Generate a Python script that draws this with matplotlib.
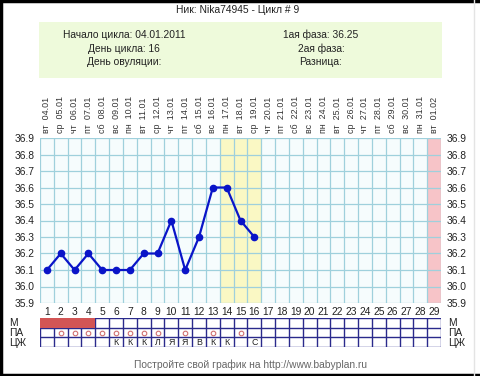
import matplotlib
matplotlib.use("Agg")
import matplotlib.pyplot as plt
from matplotlib.lines import Line2D
from matplotlib.patches import Rectangle

plt.rcParams['font.family'] = ['Liberation Sans', 'DejaVu Sans']

# данные графика
weekdays = ['вт', 'ср', 'чт', 'пт', 'сб', 'вс', 'пн',
            'вт', 'ср', 'чт', 'пт', 'сб', 'вс', 'пн',
            'вт', 'ср', 'чт', 'пт', 'сб', 'вс', 'пн',
            'вт', 'ср', 'чт', 'пт', 'сб', 'вс', 'пн', 'вт']
dates = ['04.01', '05.01', '06.01', '07.01', '08.01', '09.01', '10.01',
         '11.01', '12.01', '13.01', '14.01', '15.01', '16.01', '17.01',
         '18.01', '19.01', '20.01', '21.01', '22.01', '23.01', '24.01',
         '25.01', '26.01', '27.01', '28.01', '29.01', '30.01', '31.01', '01.02']
days = [1, 2, 3, 4, 5, 6, 7, 8, 9, 10, 11, 12, 13, 14, 15, 16]
temps = [36.1, 36.2, 36.1, 36.2, 36.1, 36.1, 36.1, 36.2,
         36.2, 36.4, 36.1, 36.3, 36.6, 36.6, 36.4, 36.3]
yticks = [35.9, 36.0, 36.1, 36.2, 36.3, 36.4, 36.5, 36.6, 36.7, 36.8, 36.9]
m_days = [1, 2, 3, 4]
pa_days = [2, 3, 4, 5, 6, 7, 8, 9, 11, 13, 15]
cm_days = [6, 7, 8, 9, 10, 11, 12, 13, 14, 16]
cm_marks = ['К', 'К', 'К', 'Л', 'Я', 'Я', 'В', 'К', 'К', 'С']
yellow_days = [14, 15, 16]
pink_days = [29]
n_days = 29

W, H = 480, 376
fig = plt.figure(figsize=(W / 100, H / 100), dpi=100)


def box(x0, y0, x1, y1):
    # пиксели (от верхнего левого угла) -> доли фигуры
    return [x0 / W, 1 - y1 / H, (x1 - x0) / W, (y1 - y0) / H]


# рамка картинки
for xs, ys, c, lw in [([0.002, 0.002], [0, 1], 'black', 2.5),
                      ([0, 1], [0.997, 0.997], 'black', 2.5),
                      ([0, 1], [0.002, 0.002], 'black', 2.5),
                      ([0.988, 0.988], [0, 1], '#e4e4e4', 1.0)]:
    fig.add_artist(Line2D(xs, ys, color=c, lw=lw, transform=fig.transFigure))

# заголовок и зелёный блок
fig.text(238 / W, 1 - 10 / H, 'Ник: Nika74945 - Цикл # 9', ha='center', va='center',
         fontsize=7.4, color='#222222')
fig.add_artist(Rectangle((39 / W, 1 - 78 / H), 403 / W, 56 / H, transform=fig.transFigure,
                         facecolor='#eefadb', edgecolor='none'))
left_info = ['Начало цикла: 04.01.2011', 'День цикла: 16', 'День овуляции:']
right_info = ['1ая фаза: 36.25', '2ая фаза:', 'Разница:']
for i, (a, b) in enumerate(zip(left_info, right_info)):
    yy = 1 - (35 + i * 13.5) / H
    fig.text(124 / W, yy, a, ha='center', va='center', fontsize=7.4, color='#222222')
    fig.text(321 / W, yy, b, ha='center', va='center', fontsize=7.4, color='#222222')

# основной график
ax = fig.add_axes(box(40, 138, 441, 303))
ax.set_xlim(0.5, n_days + 0.5)
ax.set_ylim(35.9, 36.9)
ax.set_facecolor('#f6fcfd')
for d in yellow_days:
    ax.axvspan(d - 0.5, d + 0.5, color='#faf8c4', lw=0, zorder=0.5)
for d in pink_days:
    ax.axvspan(d - 0.5, d + 0.5, color='#f7c4c8', lw=0, zorder=0.5)
grid_c = '#9fd0dc'
for k in range(n_days + 1):
    ax.axvline(k + 0.5, color=grid_c, lw=0.9, zorder=1)
for t in yticks:
    ax.axhline(t, color=grid_c, lw=0.9, zorder=1)
ax.plot(days, temps, color='#0a14c8', lw=1.6, marker='o', markersize=4.5,
        markerfacecolor='#0a14c8', markeredgecolor='#0a14c8', zorder=3)
for s in ax.spines.values():
    s.set_visible(False)
ax.set_xticks(range(1, n_days + 1))
ax.set_xticklabels([str(d) for d in range(1, n_days + 1)])
ax.set_yticks(yticks)
ax.set_yticklabels(['%.1f' % t for t in yticks])
ax.tick_params(axis='both', length=0, labelsize=7.4, colors='#222222')
ax.tick_params(axis='x', pad=3)
ax.tick_params(axis='y', labelright=True, pad=4)
for d in range(1, n_days + 1):
    ax.text(d, 1.03, weekdays[d - 1] + '  ' + dates[d - 1], transform=ax.get_xaxis_transform(),
            rotation=90, ha='center', va='bottom', fontsize=6.4, color='#333333')

# таблица внизу
tb = fig.add_axes(box(40, 318, 441, 347))
tb.set_xlim(0.5, n_days + 0.5)
tb.set_ylim(3, 0)
tb.axis('off')
line_c = '#2a2a8c'
tb.vlines([k + 0.5 for k in range(n_days + 1)], 0, 3, color=line_c, lw=1.0, zorder=2)
tb.hlines([0, 1, 2, 3], 0.5, n_days + 0.5, color=line_c, lw=1.0, zorder=2)
tb.bar(m_days, 1, width=1, bottom=0, align='center', color='#d25555', lw=0, zorder=3)
tb.plot(pa_days, [1.5] * len(pa_days), 'o', markersize=3.3, markerfacecolor='none',
        markeredgecolor='#d07070', markeredgewidth=0.8, zorder=3)
for d, m in zip(cm_days, cm_marks):
    tb.text(d, 2.5, m, ha='center', va='center', fontsize=6.4, color='#222222')
for i, lab in enumerate(['М', 'ПА', 'ЦЖ']):
    fig.text(9 / W, 1 - (323 + i * 10) / H, lab, ha='left', va='center', fontsize=7.4, color='#222222')
    fig.text(448 / W, 1 - (323 + i * 10) / H, lab, ha='left', va='center', fontsize=7.4, color='#222222')

fig.text(251 / W, 1 - 365 / H, 'Постройте свой график на http://www.babyplan.ru', ha='center',
         va='center', fontsize=7.4, color='#666666')

fig.savefig('out.png', dpi=100)
